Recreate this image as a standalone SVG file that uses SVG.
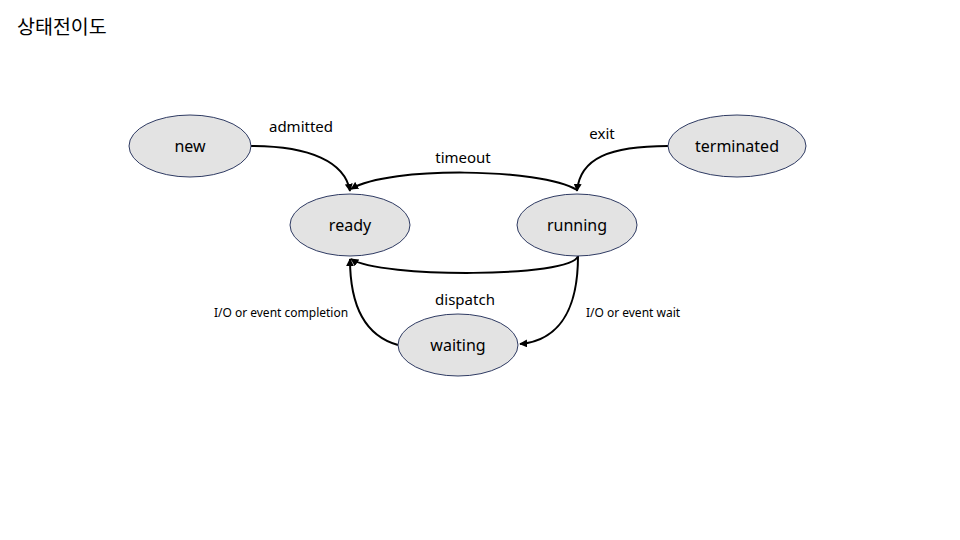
<svg xmlns="http://www.w3.org/2000/svg" width="960" height="540" viewBox="0 0 960 540">
<defs>
<style>
.node ellipse{fill:#e3e3e3;stroke:#2f3b63;stroke-width:1}
.node text{font-family:"Noto Sans","Liberation Sans",sans-serif;font-size:16px;fill:#000;text-anchor:middle;dominant-baseline:central}
.edge{fill:none;stroke:#000;stroke-width:2;marker-end:url(#ah)}
.lbl{font-family:"Noto Sans","Liberation Sans",sans-serif;font-size:15px;fill:#000;text-anchor:middle;dominant-baseline:central}
.sm{font-size:12px}
</style>
<marker id="ah" viewBox="0 0 10 10" refX="9" refY="5" markerWidth="4" markerHeight="4" orient="auto" markerUnits="strokeWidth">
<path d="M0,0 L10,5 L0,10 z" fill="#000"/>
</marker>
</defs>
<rect width="960" height="540" fill="#fff"/>
<text x="17" y="25" font-family="'Noto Sans CJK KR',sans-serif" font-size="19.5" dominant-baseline="central">상태전이도</text>
<g id="connectors">
<path class="edge" d="M251,146 C310,146 345,162 350,191"/>
<path class="edge" d="M577,190 C540,168 390,166 351,189"/>
<path class="edge" d="M668,146 C610,146 580,158 577,191"/>
<path class="edge" d="M578,256 C572,278 380,278 351,259"/>
<path class="edge" d="M398,345 C362,335 350,300 350,259"/>
<path class="edge" d="M578,256 C578,300 565,340 520,344"/>
</g>
<g id="labels">
<text class="lbl" x="301" y="126">admitted</text>
<text class="lbl" x="463" y="157">timeout</text>
<text class="lbl" x="602" y="133">exit</text>
<text class="lbl" x="465" y="299">dispatch</text>
<text class="lbl sm" x="281" y="312">I/O or event completion</text>
<text class="lbl sm" x="633" y="312">I/O or event wait</text>
</g>
<g id="new" class="node"><ellipse cx="190" cy="146" rx="61" ry="31"/><text x="190" y="146">new</text></g>
<g id="ready" class="node"><ellipse cx="350" cy="225" rx="60" ry="31"/><text x="350" y="225">ready</text></g>
<g id="running" class="node"><ellipse cx="577" cy="225" rx="60" ry="31"/><text x="577" y="225">running</text></g>
<g id="terminated" class="node"><ellipse cx="737" cy="146" rx="69" ry="31"/><text x="737" y="146">terminated</text></g>
<g id="waiting" class="node"><ellipse cx="458" cy="345" rx="60" ry="31"/><text x="458" y="345">waiting</text></g>
</svg>
